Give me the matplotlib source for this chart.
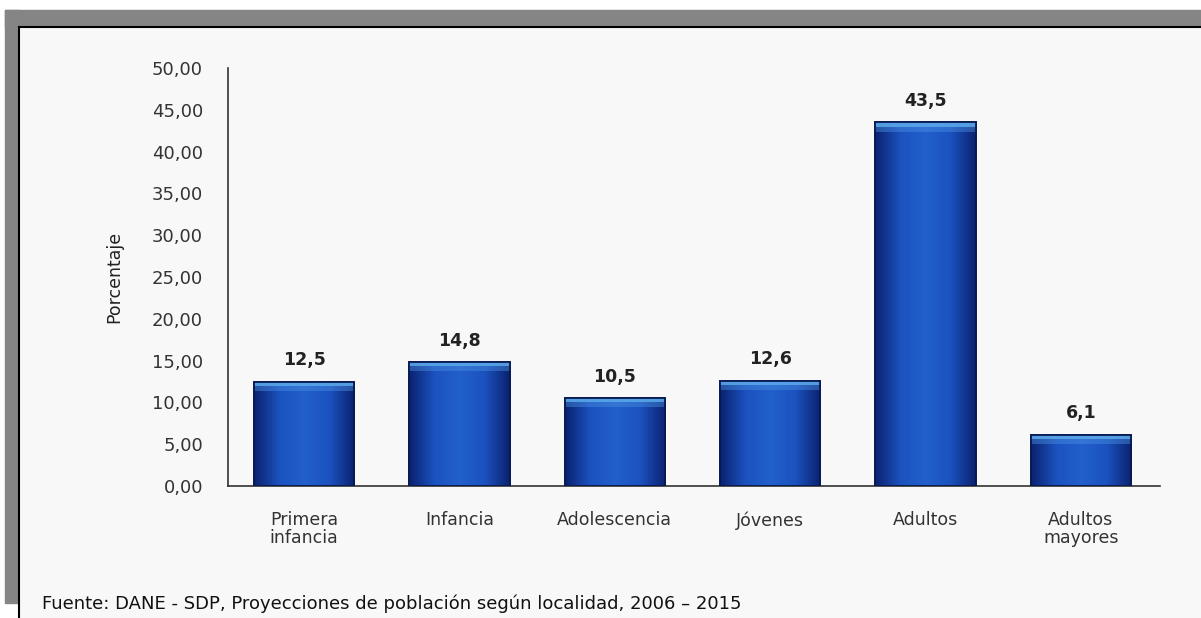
import matplotlib.pyplot as plt
import numpy as np
from matplotlib.patches import Rectangle
from matplotlib.lines import Line2D
from matplotlib.colors import LinearSegmentedColormap

plt.rcParams['font.family'] = ['DejaVu Sans']

# data
grupos = ["Primera\ninfancia", "Infancia", "Adolescencia", "Jóvenes", "Adultos", "Adultos\nmayores"]
porcentaje = [12.5, 14.8, 10.5, 12.6, 43.5, 6.1]
etiquetas = ["12,5", "14,8", "10,5", "12,6", "43,5", "6,1"]
yticks = [0, 5, 10, 15, 20, 25, 30, 35, 40, 45, 50]
fuente = "Fuente: DANE - SDP, Proyecciones de población según localidad, 2006 – 2015"

W, H = 1201, 618
fig = plt.figure(figsize=(W / 100, H / 100), dpi=100)
fig.patch.set_facecolor("white")

# grey frame + thin black border, as in the scanned figure
def px(x0, y0, x1, y1):
    return (x0 / W, 1 - y1 / H), (x1 - x0) / W, (y1 - y0) / H

for box in [(5, 10, W, 27), (5, 10, 19, 603)]:
    xy, w, h = px(*box)
    fig.add_artist(Rectangle(xy, w, h, transform=fig.transFigure, color="#858585", zorder=0))
xy, w, h = px(19, 27, W, H)
fig.add_artist(Rectangle(xy, w, h, transform=fig.transFigure, color="#f8f8f8", zorder=0))
fig.add_artist(Line2D([19 / W, 1], [1 - 27 / H] * 2, transform=fig.transFigure, color="black", lw=1.5))
fig.add_artist(Line2D([19 / W] * 2, [0, 1 - 27 / H], transform=fig.transFigure, color="black", lw=1.5))

ax = fig.add_axes([228 / W, 1 - 486 / H, (1160 - 228) / W, (486 - 68) / H])
ax.set_facecolor("none")

x = np.arange(len(grupos))
bars = ax.bar(x, porcentaje, width=0.645, color="#1a50b5", edgecolor="#0a1e5c", linewidth=1.2, zorder=2)

# horizontal shading, dark at the sides, with a light fade on top
cmap = LinearSegmentedColormap.from_list("barra", ["#0b2270", "#1b52bf", "#2260cc", "#1b52bf", "#0b2270"])
grad = np.tile(np.linspace(0, 1, 200), (50, 1))
for b in bars:
    x0, y0 = b.get_x(), b.get_y()
    w, h = b.get_width(), b.get_height()
    im = ax.imshow(grad, cmap=cmap, extent=(x0, x0 + w, y0, y0 + h), aspect="auto", zorder=2.5)
    im.set_clip_path(b)
    ax.add_patch(Rectangle((x0, y0 + h - 0.5), w, 0.5, color="#5aa8ea", alpha=0.9, zorder=2.6, lw=0))
    ax.add_patch(Rectangle((x0, y0 + h - 1.1), w, 0.6, color="#4a8fe0", alpha=0.45, zorder=2.6, lw=0))
    ax.add_patch(Rectangle((x0, y0), w, h, fill=False, edgecolor="#081a52", lw=1.3, zorder=2.7))

for xi, v, t in zip(x, porcentaje, etiquetas):
    ax.text(xi, v + 1.5, t, ha="center", va="bottom", fontsize=12.5, fontweight="bold", color="#222222")

ax.set_xlim(-0.49, 5.51)
ax.set_ylim(0, 50)
ax.set_yticks(yticks)
ax.set_yticklabels([f"{v:.2f}".replace(".", ",") for v in yticks], fontsize=13, color="#333333")
ax.set_xticks(x)
ax.set_xticklabels(grupos, fontsize=12.5, color="#333333", linespacing=1.0)
ax.tick_params(axis="both", length=0)
ax.tick_params(axis="y", pad=18)
ax.tick_params(axis="x", pad=18)

for s in ["top", "right"]:
    ax.spines[s].set_visible(False)
ax.spines["left"].set_color("#333333")
ax.spines["bottom"].set_color("#333333")
ax.spines["left"].set_linewidth(1.2)
ax.spines["bottom"].set_linewidth(1.2)

ax.set_ylabel("Porcentaje", fontsize=12.5, color="#222222")
ax.yaxis.set_label_coords(-0.112, 0.5)

fig.text(42 / W, 1 - 604 / H, fuente, fontsize=13, color="#111111", va="center", ha="left")

fig.savefig("out.png", dpi=100)
